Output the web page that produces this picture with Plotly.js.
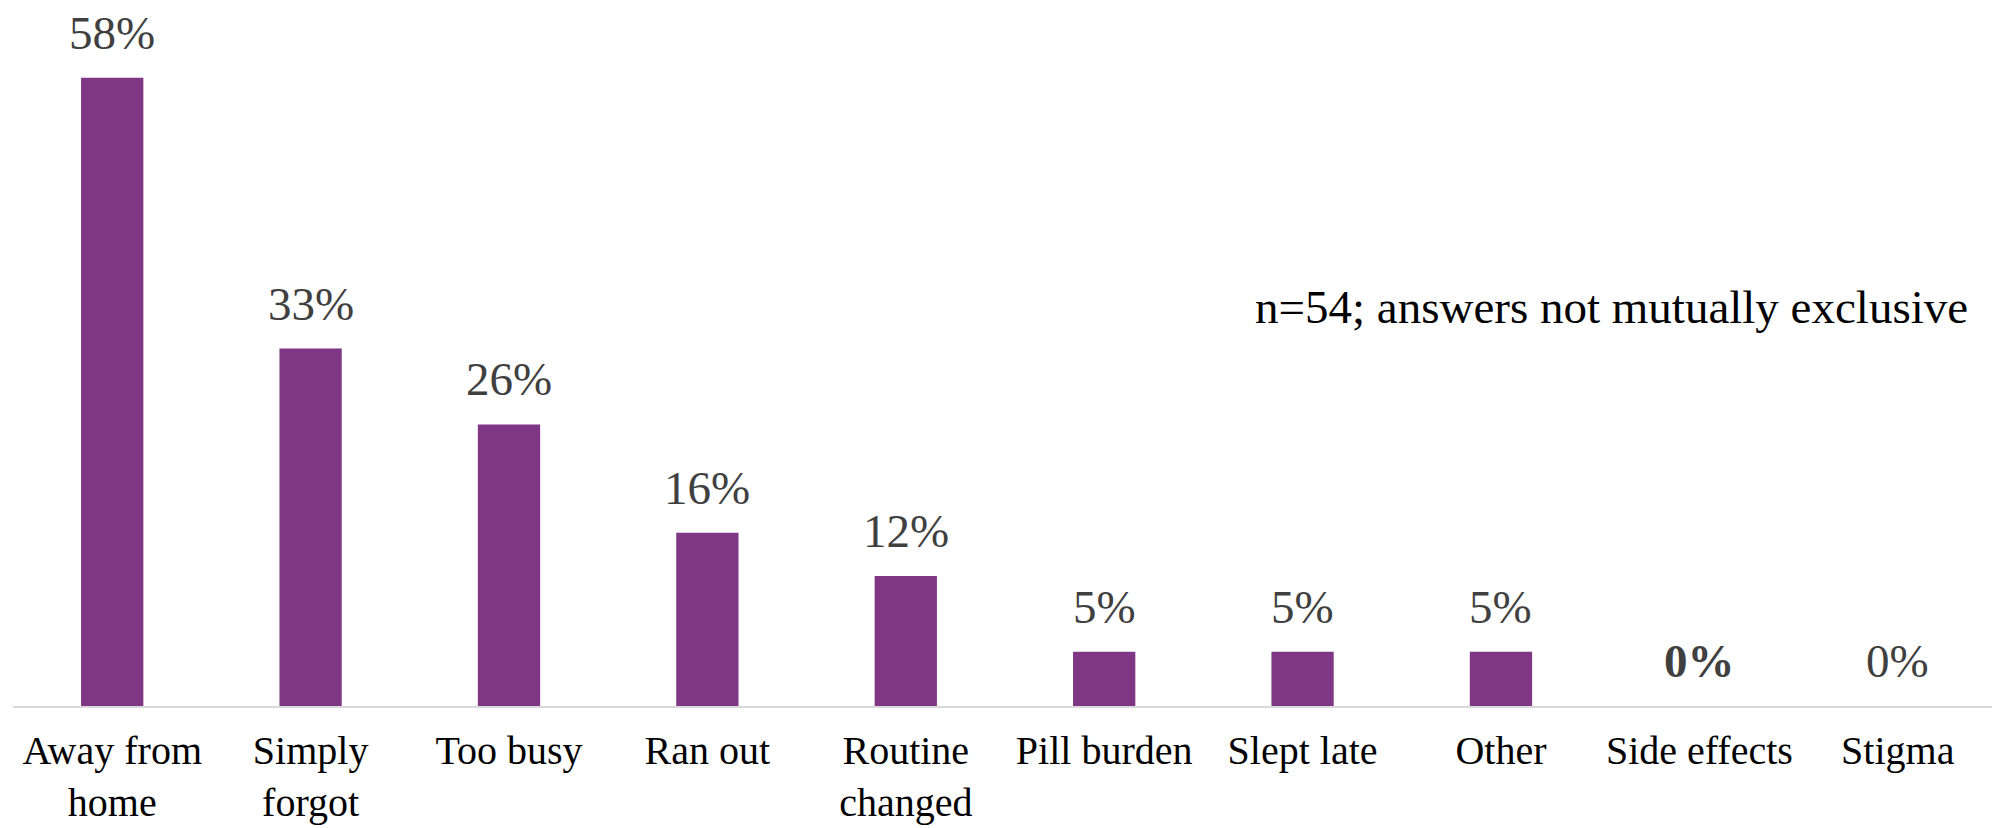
<!DOCTYPE html>
<html>
<head>
<meta charset="utf-8">
<script src="https://cdn.plot.ly/plotly-3.0.1.min.js"></script>
<style>
  html, body { margin: 0; padding: 0; background: #ffffff; }
  #chart { width: 1992px; height: 828px; }
</style>
</head>
<body>
<div id="chart"></div>
<script>
// ---- Data ----
var categories = [
  "Away from<br>home", "Simply<br>forgot", "Too busy", "Ran out",
  "Routine<br>changed", "Pill burden", "Slept late", "Other",
  "Side effects", "Stigma"
];
var values = [58, 33, 26, 16, 12, 5, 5, 5, 0, 0];
var boldLabel = [false, false, false, false, false, false, false, false, true, false];
var noteText = "n=54; answers not mutually exclusive";

// ---- Styling ----
var serif = "'Liberation Serif', 'Times New Roman', 'DejaVu Serif', serif";
var barColor = "#7f3785";

var labelText = values.map(function (v, i) {
  var t = v + "%";
  return boldLabel[i] ? "<b>" + t + "</b>" : t;
});

var trace = {
  type: "bar",
  x: categories,
  y: values,
  marker: { color: barColor, line: { width: 0 } },
  hoverinfo: "skip"
};

var annotations = categories.map(function (c, i) {
  return {
    x: c, y: values[i], xref: "x", yref: "y",
    text: labelText[i], showarrow: false,
    xanchor: "center", yanchor: "bottom", yshift: 17,
    font: { family: serif, size: 47, color: "#404040" }
  };
});
annotations.push({
  x: 0.9889, y: 0.605, xref: "paper", yref: "paper",
  xanchor: "right", yanchor: "top", showarrow: false,
  text: noteText,
  font: { family: serif, size: 47, color: "#000000" }
});

var layout = {
  width: 1992,
  height: 828,
  margin: { l: 13, r: 0, t: 0, b: 122, pad: 0 },
  paper_bgcolor: "#ffffff",
  plot_bgcolor: "#ffffff",
  showlegend: false,
  bargap: 0.686,
  xaxis: {
    type: "category",
    range: [-0.5, 9.475],
    showline: true,
    linecolor: "#d9d9d9",
    linewidth: 2,
    ticks: "",
    ticklabelstandoff: 8,
    showgrid: false,
    zeroline: false,
    automargin: false,
    tickfont: { family: serif, size: 40, color: "#000000" },
    fixedrange: true
  },
  yaxis: {
    range: [0, 65.19],
    visible: false,
    showgrid: false,
    zeroline: false,
    automargin: false,
    fixedrange: true
  },
  annotations: annotations
};

Plotly.newPlot("chart", [trace], layout, { displayModeBar: false, staticPlot: true });
</script>
</body>
</html>
